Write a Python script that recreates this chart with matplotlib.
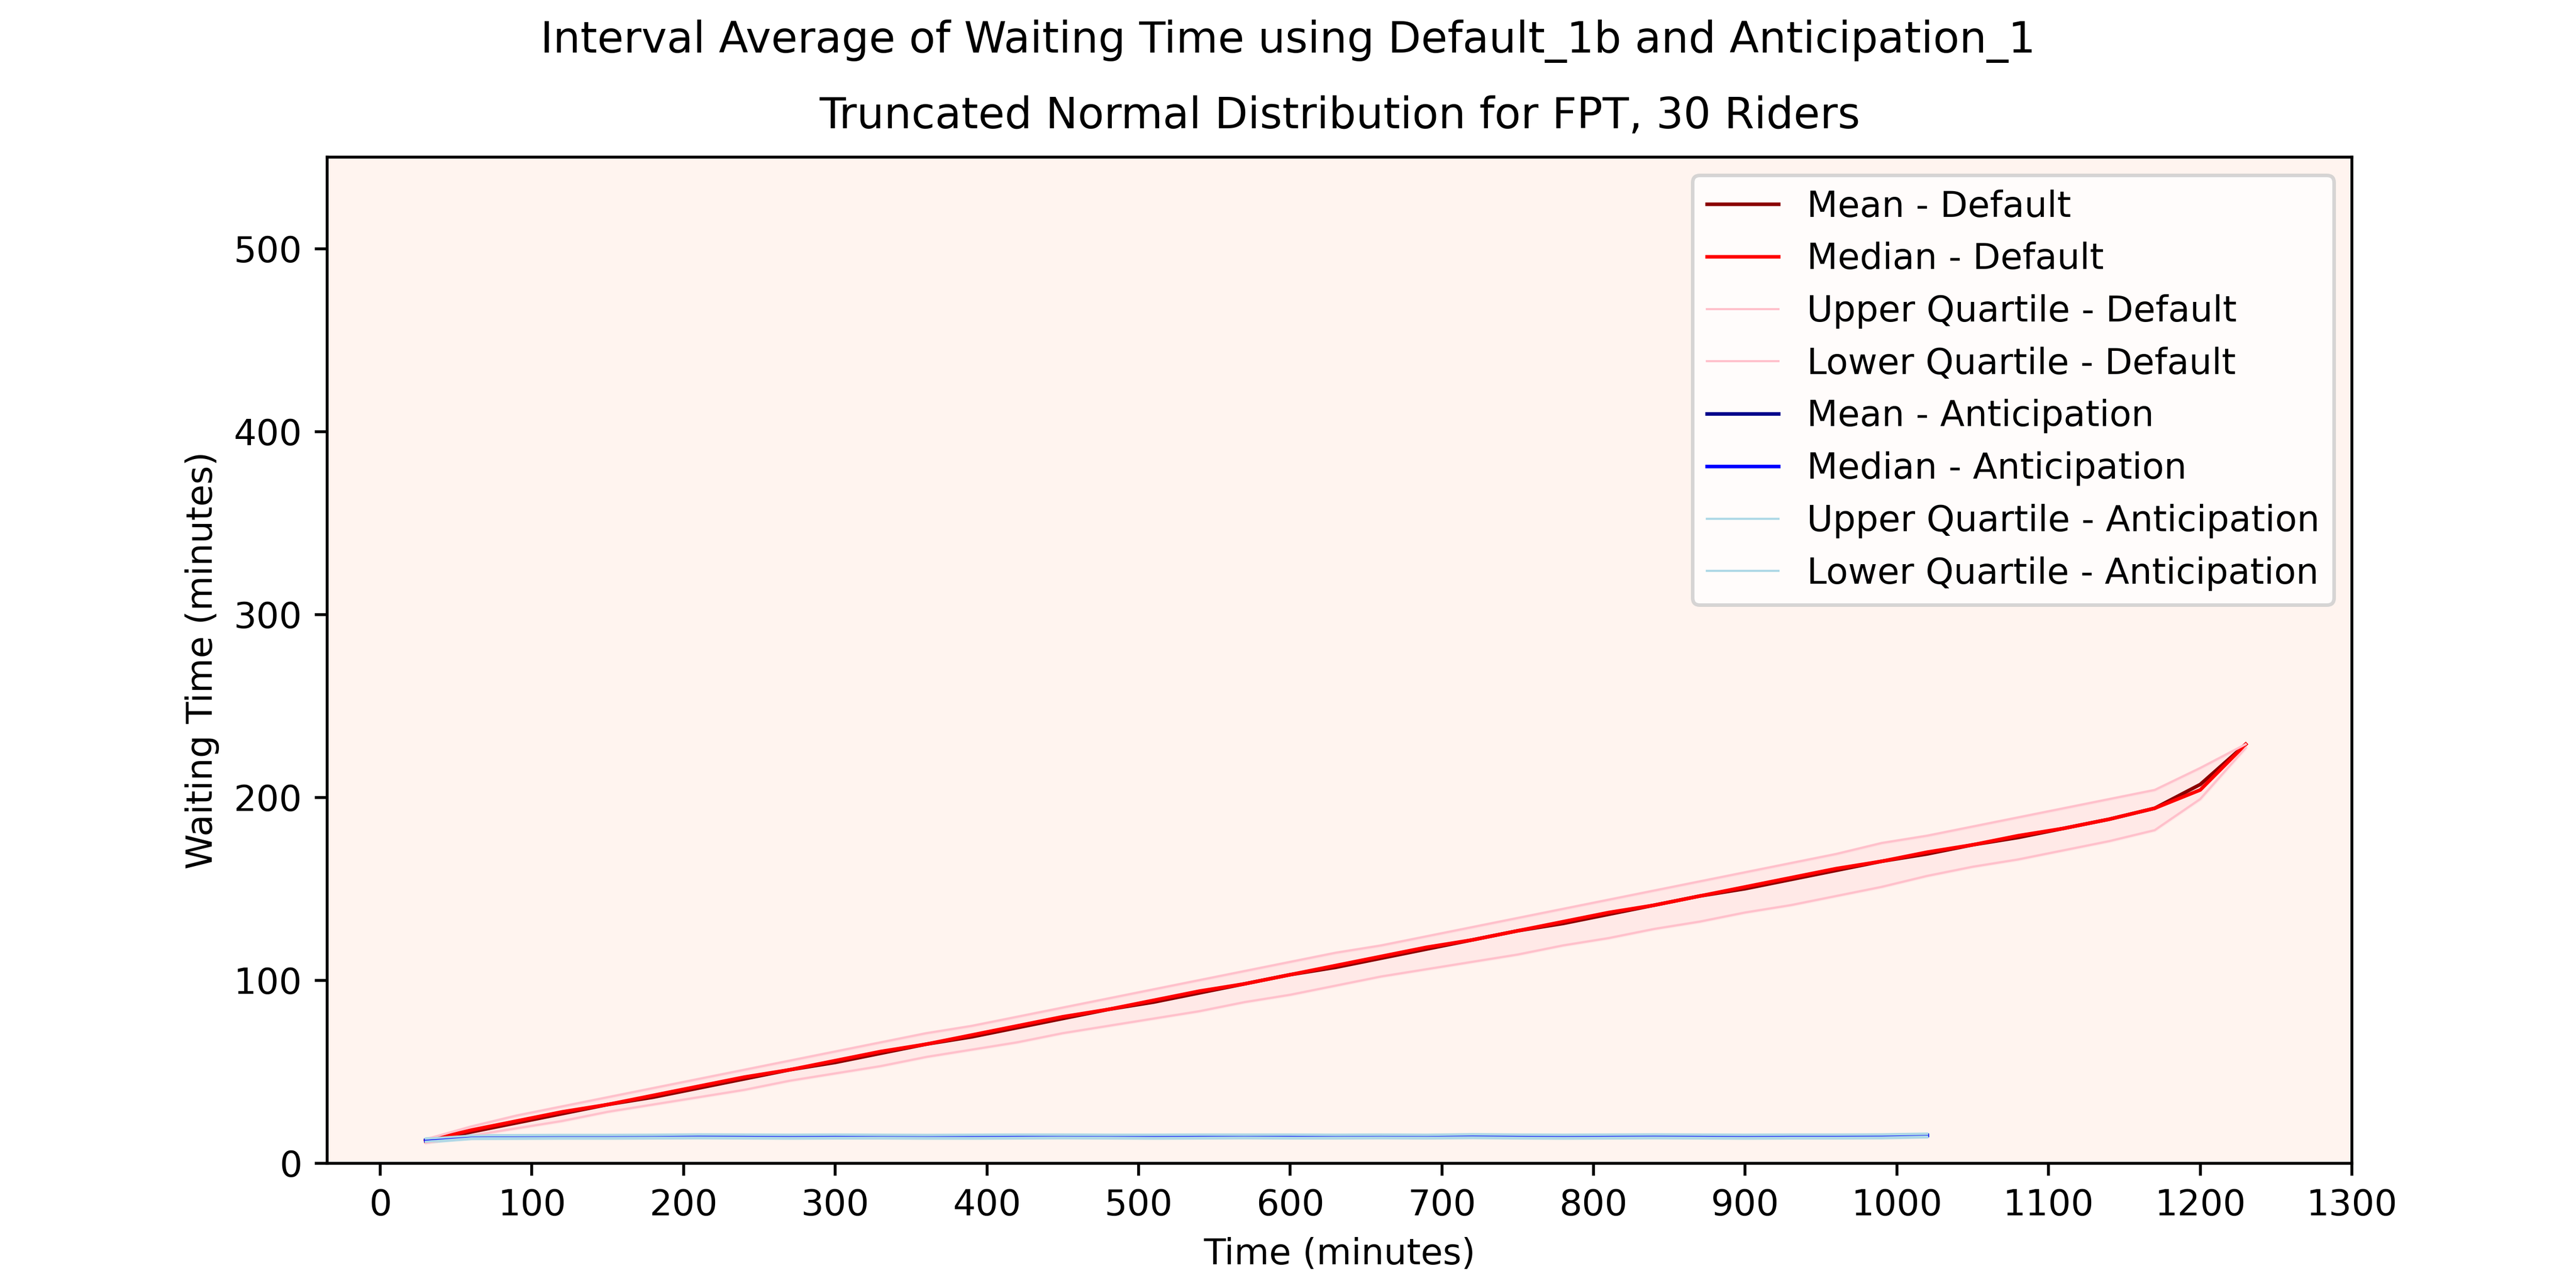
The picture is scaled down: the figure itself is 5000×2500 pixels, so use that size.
import matplotlib.pyplot as plt
import numpy as np

# Default_1b, every 30 min from 30 to 1230
t_def = list(range(30, 1231, 30))
mean_def = [12, 17, 22, 27, 32, 36, 41, 46, 51, 55, 60, 65, 69, 74, 79, 84, 88, 93, 98, 103,
            107, 112, 117, 122, 127, 131, 136, 141, 146, 150, 155, 160, 165, 169, 174, 178,
            183, 188, 194, 207, 229]
median_def = [12, 18, 23, 28, 32, 37, 42, 47, 51, 56, 61, 65, 70, 75, 80, 84, 89, 94, 98, 103,
              108, 113, 118, 122, 127, 132, 137, 141, 146, 151, 156, 161, 165, 170, 174, 179,
              183, 188, 194, 204, 229]
upper_def = [13, 20, 26, 31, 36, 41, 46, 51, 56, 61, 66, 71, 75, 80, 85, 90, 95, 100, 105, 110,
             115, 119, 124, 129, 134, 139, 144, 149, 154, 159, 164, 169, 175, 179, 184, 189,
             194, 199, 204, 216, 229]
lower_def = [11, 15, 19, 23, 28, 32, 36, 40, 45, 49, 53, 58, 62, 66, 71, 75, 79, 83, 88, 92,
             97, 102, 106, 110, 114, 119, 123, 128, 132, 137, 141, 146, 151, 157, 162, 166,
             171, 176, 182, 199, 227]

# Anticipation_1, every 30 min from 30 to 1020
t_ant = list(range(30, 1021, 30))
mean_ant = [12.5, 14.3, 14.4, 14.5, 14.5, 14.6, 14.8, 14.6, 14.5, 14.7, 14.6, 14.5, 14.5, 14.6,
            14.7, 14.6, 14.5, 14.6, 14.7, 14.6, 14.6, 14.7, 14.6, 14.8, 14.6, 14.5, 14.6, 14.7,
            14.6, 14.5, 14.6, 14.6, 14.7, 15.2]
median_ant = [12.3, 14.2, 14.3, 14.4, 14.4, 14.5, 14.6, 14.5, 14.4, 14.6, 14.5, 14.4, 14.4, 14.5,
              14.6, 14.5, 14.4, 14.5, 14.6, 14.5, 14.5, 14.6, 14.5, 14.7, 14.5, 14.4, 14.5, 14.6,
              14.5, 14.4, 14.5, 14.5, 14.6, 15.1]
upper_ant = [13.3, 15.0, 15.1, 15.2, 15.2, 15.3, 15.5, 15.4, 15.3, 15.4, 15.3, 15.2, 15.3, 15.4,
             15.4, 15.3, 15.3, 15.4, 15.4, 15.4, 15.3, 15.4, 15.3, 15.6, 15.4, 15.3, 15.4, 15.5,
             15.4, 15.3, 15.4, 15.4, 15.5, 15.9]
lower_ant = [11.7, 13.6, 13.7, 13.8, 13.8, 13.9, 14.0, 13.9, 13.8, 13.9, 13.9, 13.8, 13.8, 13.9,
             14.0, 13.9, 13.8, 13.9, 14.0, 13.9, 13.9, 14.0, 13.9, 14.1, 13.9, 13.8, 13.9, 14.0,
             13.9, 13.8, 13.9, 13.9, 14.0, 14.5]

fig, ax = plt.subplots(figsize=(10, 5))
fig.subplots_adjust(left=0.127, right=0.913, bottom=0.097, top=0.878)
ax.set_facecolor('#fff4ef')

ax.plot(t_def, mean_def, color='darkred', linewidth=1, label='Mean - Default')
ax.plot(t_def, median_def, color='red', linewidth=1, label='Median - Default')
ax.plot(t_def, upper_def, color='pink', linewidth=0.6, label='Upper Quartile - Default')
ax.plot(t_def, lower_def, color='pink', linewidth=0.6, label='Lower Quartile - Default')
ax.fill_between(t_def, lower_def, upper_def, color='pink', alpha=0.2)

ax.plot(t_ant, mean_ant, color='darkblue', linewidth=1, label='Mean - Anticipation')
ax.plot(t_ant, median_ant, color='blue', linewidth=1, label='Median - Anticipation')
ax.plot(t_ant, upper_ant, color='lightblue', linewidth=0.6, label='Upper Quartile - Anticipation')
ax.plot(t_ant, lower_ant, color='lightblue', linewidth=0.6, label='Lower Quartile - Anticipation')
ax.fill_between(t_ant, lower_ant, upper_ant, color='lightblue', alpha=0.9)

ax.set_xlim(-35, 1300)
ax.set_ylim(0, 550)
ax.set_xticks(range(0, 1301, 100))
ax.set_xlabel('Time (minutes)')
ax.set_ylabel('Waiting Time (minutes)')
fig.suptitle('Interval Average of Waiting Time using Default_1b and Anticipation_1', fontsize=12, y=0.985)
ax.set_title('Truncated Normal Distribution for FPT, 30 Riders', fontsize=12, pad=8)
ax.legend(loc='upper right')

plt.savefig('out.png', dpi=500)
